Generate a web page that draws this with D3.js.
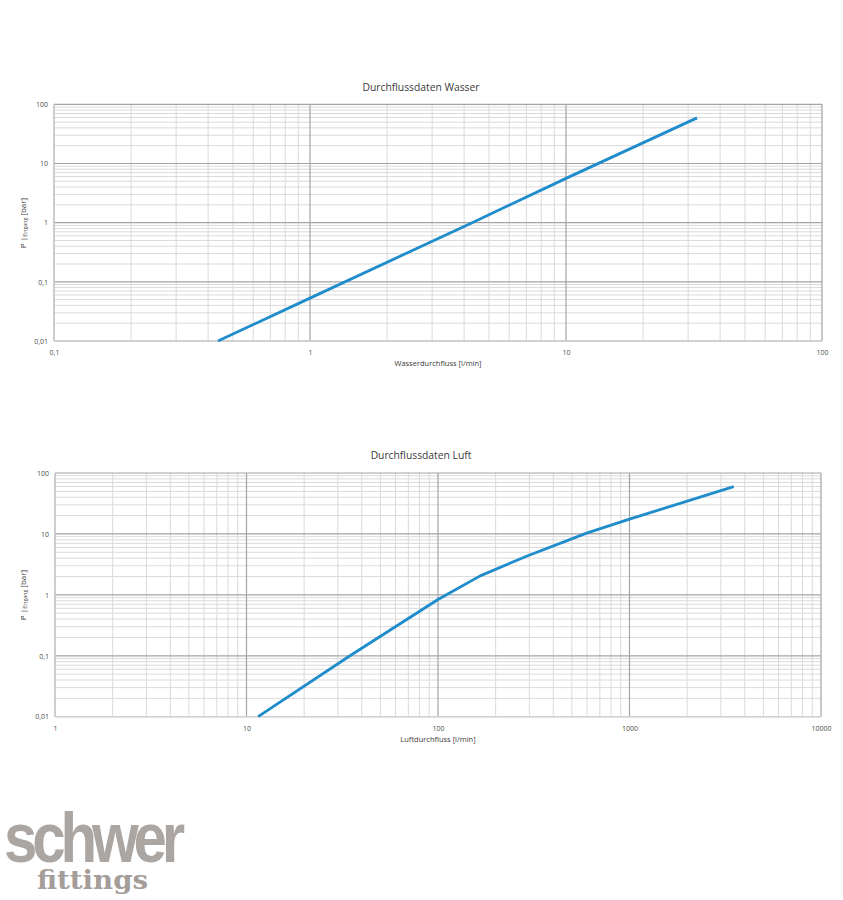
<!DOCTYPE html>
<html><head><meta charset="utf-8">
<script src="https://cdn.jsdelivr.net/npm/d3@7"></script>
<style>body{margin:0;background:#fff}svg{display:block}</style>
</head><body><svg id="c" width="843" height="900"></svg>
<script>
// ---- data ----
const waterFlow = [0.437, 1, 4.3, 10, 32.5];           // l/min
const waterPressure = [0.01, 0.053, 1.0, 5.6, 59];      // bar
const airFlow = [11.5, 34.7, 100, 115, 166, 290, 597, 1000, 3500]; // l/min
const airPressure = [0.01, 0.1, 0.84, 1.07, 2.05, 4.3, 10.3, 17.5, 59.6]; // bar
const pressureTicks = [0.01, 0.1, 1, 10, 100];
const waterTicks = [0.1, 1, 10, 100];
const airTicks = [1, 10, 100, 1000, 10000];
const titles = ["Durchflussdaten Wasser", "Durchflussdaten Luft"];
const xLabels = ["Wasserdurchfluss [l/min]", "Luftdurchfluss [l/min]"];

const svg = d3.select("#c");
const FONT = "'Open Sans', 'Liberation Sans', sans-serif";
const fmt = v => String(v).replace(".", ",");
const isMajor = v => Math.abs(Math.log10(v) - Math.round(Math.log10(v))) < 1e-9;

function chart(o) {
  const x = d3.scaleLog().domain(o.xDomain).range([o.left, o.right]);
  const y = d3.scaleLog().domain([0.01, 100]).range([o.bottom, o.top]);
  const g = svg.append("g");

  const xt = x.ticks(), yt = y.ticks();
  // minor grid
  g.selectAll(".vminor").data(xt.filter(v => !isMajor(v))).join("line")
    .attr("x1", d => x(d)).attr("x2", d => x(d)).attr("y1", o.top).attr("y2", o.bottom)
    .attr("stroke", "#dadada").attr("stroke-width", 1);
  g.selectAll(".hminor").data(yt.filter(v => !isMajor(v))).join("line")
    .attr("y1", d => y(d)).attr("y2", d => y(d)).attr("x1", o.left).attr("x2", o.right)
    .attr("stroke", "#dadada").attr("stroke-width", 1);
  // major grid
  g.selectAll(".vmajor").data(xt.filter(isMajor)).join("line")
    .attr("x1", d => x(d)).attr("x2", d => x(d)).attr("y1", o.top).attr("y2", o.bottom)
    .attr("stroke", "#a3a3a3").attr("stroke-width", 1.2);
  g.selectAll(".hmajor").data(yt.filter(isMajor)).join("line")
    .attr("y1", d => y(d)).attr("y2", d => y(d)).attr("x1", o.left).attr("x2", o.right)
    .attr("stroke", "#a3a3a3").attr("stroke-width", 1.2);
  // axis lines (lighter)
  g.append("line").attr("x1", o.left).attr("x2", o.right).attr("y1", o.bottom).attr("y2", o.bottom)
    .attr("stroke", "#d0d0d0").attr("stroke-width", 1.2);
  g.append("line").attr("x1", o.left).attr("x2", o.left).attr("y1", o.top).attr("y2", o.bottom)
    .attr("stroke", "#d0d0d0").attr("stroke-width", 1.2);

  // axes (labels only)
  const ax = g.append("g").attr("transform", `translate(0,${o.bottom})`)
    .call(d3.axisBottom(x).tickValues(o.xTicks).tickFormat(fmt).tickSize(0).tickPadding(9));
  const ay = g.append("g").attr("transform", `translate(${o.left},0)`)
    .call(d3.axisLeft(y).tickValues(pressureTicks).tickFormat(fmt).tickSize(0).tickPadding(6));
  [ax, ay].forEach(a => {
    a.select(".domain").remove();
    a.selectAll("text").attr("font-family", FONT).attr("font-size", 7).attr("fill", "#4a4a4a");
  });

  // line
  const pts = o.flow.map((f, i) => [f, o.pressure[i]]);
  g.append("path").datum(pts)
    .attr("d", d3.line().x(d => x(d[0])).y(d => y(d[1])))
    .attr("fill", "none").attr("stroke", "#1f8ccb").attr("stroke-width", 2.8)
    .attr("stroke-linejoin", "round");

  // title
  g.append("text").attr("x", o.titleX).attr("y", o.titleY).attr("text-anchor", "middle")
    .attr("font-family", FONT).attr("font-size", 10.3).attr("fill", "#3a3a3a").text(o.title);
  // x label
  g.append("text").attr("x", (o.left + o.right) / 2).attr("y", o.xLabelY).attr("text-anchor", "middle")
    .attr("font-family", FONT).attr("font-size", 7.5).attr("fill", "#3a3a3a").text(o.xLabel);
  // y label
  const yl = g.append("text").attr("transform", `translate(${o.yLabelX},${o.yLabelY}) rotate(-90)`)
    .attr("text-anchor", "middle").attr("font-family", FONT).attr("font-size", 8).attr("fill", "#3a3a3a");
  yl.append("tspan").text("P |");
  yl.append("tspan").attr("font-size", 5.2).attr("dy", 1.5).text("Eingang");
  yl.append("tspan").attr("dy", -1.5).text(" [bar]");
}

chart({xDomain: [0.1, 100], left: 54, right: 822, top: 104.3, bottom: 341,
  xTicks: waterTicks, flow: waterFlow, pressure: waterPressure,
  title: titles[0], titleX: 421, titleY: 91, xLabel: xLabels[0], xLabelY: 366,
  yLabelX: 25.5, yLabelY: 223});
chart({xDomain: [1, 10000], left: 55, right: 821, top: 473, bottom: 716.7,
  xTicks: airTicks, flow: airFlow, pressure: airPressure,
  title: titles[1], titleX: 421, titleY: 459, xLabel: xLabels[1], xLabelY: 742,
  yLabelX: 25.5, yLabelY: 595});

// logo
svg.append("text").attr("x", 4).attr("y", 862).attr("font-family", "'Liberation Sans', Arial, sans-serif")
  .attr("font-weight", "bold").attr("font-size", 70).attr("letter-spacing", -6)
  .attr("textLength", 176).attr("lengthAdjust", "spacingAndGlyphs")
  .attr("fill", "#aca6a2").text("schwer");
svg.append("text").attr("x", 37).attr("y", 889).attr("font-family", "'DejaVu Serif', serif")
  .attr("font-weight", "bold").attr("font-size", 26)
  .attr("textLength", 111).attr("lengthAdjust", "spacingAndGlyphs")
  .attr("fill", "#a49d99").text("fittings");
</script></body></html>
